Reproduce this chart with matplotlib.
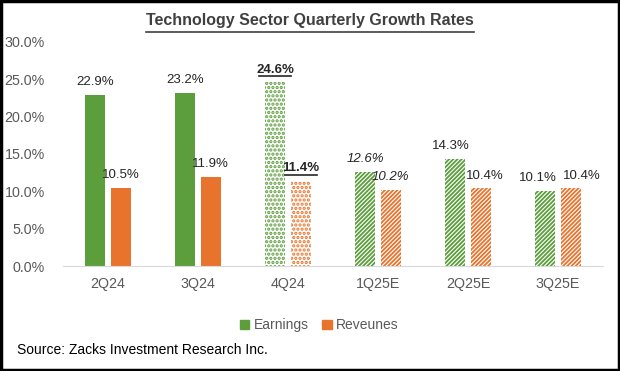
import matplotlib.pyplot as plt
import matplotlib.patches as mpatches
import numpy as np

quarters = ['2Q24', '3Q24', '4Q24', '1Q25E', '2Q25E', '3Q25E']
earnings = [22.9, 23.2, 24.6, 12.6, 14.3, 10.1]
revenues = [10.5, 11.9, 11.4, 10.2, 10.4, 10.4]
fills = ['solid', 'solid', 'dots', 'italic', 'stripes', 'stripes']

green = '#5c9e3c'
orange = '#e8732c'
gray = '#595959'

plt.rcParams['font.family'] = ['Liberation Sans', 'DejaVu Sans']

fig = plt.figure(figsize=(6.2, 3.71), dpi=100)
ax = fig.add_axes([0.1016, 0.283, 0.871, 0.604])

x = np.arange(len(quarters))
w = 0.22
off = 0.142

for i, q in enumerate(quarters):
    # the estimate labels sit close together, push them apart a little
    if i == len(quarters) - 1:
        nudge = (-0.08, 0.12)
    elif i == len(quarters) - 2:
        nudge = (-0.05, 0.05)
    else:
        nudge = (0, 0)
    pairs = ((earnings[i], green, -off, nudge[0]), (revenues[i], orange, off, nudge[1]))
    for val, col, dx, nx in pairs:
        if fills[i] == 'solid':
            ax.bar(x[i] + dx, val, w, color=col, linewidth=0)
        elif fills[i] == 'dots':
            b = ax.bar(x[i] + dx, val, w, facecolor='white', edgecolor=col,
                       hatch='....', linewidth=0)
            for p in b:
                p._hatch_linewidth = 1.6
        else:
            b = ax.bar(x[i] + dx, val, w, facecolor='white', edgecolor=col,
                       hatch='////////', linewidth=0)
            for p in b:
                p._hatch_linewidth = 1.3
        kw = dict(ha='center', va='bottom', fontsize=9.5, color='#262626')
        if fills[i] == 'dots':
            kw['fontweight'] = 'bold'
        if fills[i] == 'italic':
            kw['style'] = 'italic'
        ax.text(x[i] + dx + nx, val + 0.9, f'{val:.1f}%', **kw)
        if fills[i] == 'dots':
            ax.plot([x[i] + dx - 0.18, x[i] + dx + 0.18], [val + 0.8, val + 0.8],
                    color='#262626', lw=1.2, clip_on=False)

ax.set_xlim(-0.5, len(quarters) - 0.5)
ax.set_ylim(0, 30)
ax.set_yticks(np.arange(0, 31, 5))
ax.set_yticklabels([f'{v:.1f}%' for v in np.arange(0, 31, 5)])
ax.set_xticks(x)
ax.set_xticklabels(quarters)
ax.tick_params(axis='both', length=0, labelsize=10.3, labelcolor=gray)
ax.tick_params(axis='x', pad=8)
ax.tick_params(axis='y', pad=13)
for s in ['top', 'right', 'left']:
    ax.spines[s].set_visible(False)
ax.spines['bottom'].set_color('#d9d9d9')

fig.text(0.5, 0.945, 'Technology Sector Quarterly Growth Rates', ha='center',
         va='center', fontsize=11.5, fontweight='bold', color='#404040')
fig.add_artist(plt.Line2D([0.236, 0.764], [0.915, 0.915], color='#404040', lw=1.2))

handles = [mpatches.Patch(color=green, label='Earnings'),
           mpatches.Patch(color=orange, label='Reveunes')]
fig.legend(handles=handles, loc='center', bbox_to_anchor=(0.515, 0.123), ncol=2,
           frameon=False, fontsize=10, handlelength=0.7, handleheight=0.7,
           handletextpad=0.3, columnspacing=1.0, labelcolor=gray)

fig.text(0.027, 0.057, 'Source: Zacks Investment Research Inc.', ha='left',
         va='center', fontsize=10, color='black')

fig.add_artist(mpatches.Rectangle((0.002, 0.003), 0.996, 0.994, fill=False,
                                  edgecolor='black', lw=2.5, transform=fig.transFigure))

fig.savefig('out.png', dpi=100)
